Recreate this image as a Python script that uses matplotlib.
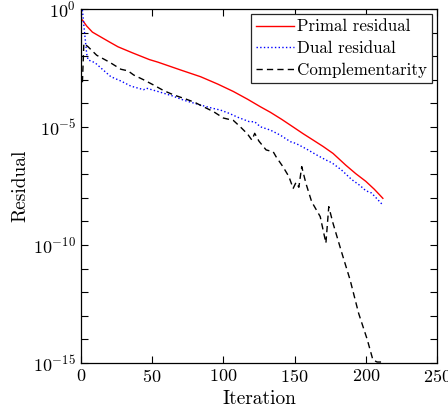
import matplotlib

matplotlib.use("Agg")
import matplotlib.pyplot as plt
import numpy as np
from matplotlib.ticker import LogLocator, NullFormatter

plt.rcParams["font.family"] = "serif"
plt.rcParams["font.serif"] = ["cmr10"]
plt.rcParams["mathtext.fontset"] = "cm"
plt.rcParams["axes.formatter.use_mathtext"] = True

# Primal residual (red, solid)
primal_it = [1, 4, 8, 12, 20, 26, 36, 48, 54, 70, 84, 96, 107, 117, 126, 133,
             141, 149, 156, 163, 170, 177, 186, 193, 200, 206, 212]
primal_res = [3.4e-1, 1.9e-1, 1.05e-1, 7.6e-2, 4.0e-2, 2.5e-2, 1.4e-2, 7.2e-3,
              5.6e-3, 2.6e-3, 1.35e-3, 6.6e-4, 3.2e-4, 1.5e-4, 7.2e-5, 4.2e-5,
              2.1e-5, 1.0e-5, 5.2e-6, 2.8e-6, 1.5e-6, 7.6e-7, 2.4e-7, 1.05e-7,
              5.0e-8, 2.3e-8, 9.5e-9]

# Dual residual (blue, dotted)
dual_it = [1, 2, 4, 5, 7, 10, 15, 21, 28, 35, 44, 46, 54, 64, 72, 84, 92, 98,
           104, 110, 118, 122, 126, 133, 140, 147, 151, 158, 165, 172, 175, 177,
           183, 190, 196, 200, 204, 208, 212]
dual_res = [9.1e-1, 2.0e-1, 1.26e-2, 6.9e-3, 6.3e-3, 5.2e-3, 2.8e-3, 1.35e-3,
            8.9e-4, 5.4e-4, 3.8e-4, 4.4e-4, 3.2e-4, 2.1e-4, 1.38e-4, 8.5e-5,
            6.3e-5, 5.2e-5, 3.8e-5, 2.6e-5, 1.7e-5, 1.66e-5, 1.02e-5, 7.4e-6,
            4.5e-6, 2.4e-6, 2.0e-6, 1.2e-6, 6.8e-7, 4.0e-7, 3.3e-7, 2.8e-7,
            1.5e-7, 6.0e-8, 3.3e-8, 2.0e-8, 1.6e-8, 8.9e-9, 4.9e-9]

# Complementarity (black, dashed)
comp_it = [1, 2, 5, 11, 20, 28, 33, 37, 44, 51, 58, 65, 74, 80, 86, 93, 100,
           107, 112, 117, 120, 122, 125, 130, 135, 137, 142, 146, 149, 151, 153,
           155, 158, 162, 168, 172, 174, 177, 183, 189, 195, 201, 205, 208, 211]
comp_res = [7.9e-4, 3.5e-2, 2.5e-2, 1.1e-2, 5.6e-3, 2.8e-3, 2.4e-3, 1.6e-3,
            1.0e-3, 6.0e-4, 3.5e-4, 2.3e-4, 1.5e-4, 1.1e-4, 7.2e-5, 4.5e-5,
            2.4e-5, 1.9e-5, 1.0e-5, 5.0e-6, 2.8e-6, 5.4e-6, 2.5e-6, 1.07e-6,
            8.9e-7, 5.5e-7, 2.0e-7, 7.9e-8, 2.5e-8, 4.5e-8, 2.8e-8, 2.1e-7,
            4.0e-8, 6.8e-9, 1.6e-9, 1.2e-10, 4.2e-9, 8.3e-10, 5.0e-11, 3.3e-12,
            1.26e-13, 1.0e-14, 1.35e-15, 1.1e-15, 1.1e-15]

fig = plt.figure(figsize=(4.48, 4.15), dpi=100)
ax = fig.add_axes([0.1808, 0.1253, 0.7946, 0.853])

ax.semilogy(primal_it, primal_res, color="red", lw=1.0, label="Primal residual")
ax.semilogy(dual_it, dual_res, color="blue", lw=1.0, ls=":", label="Dual residual")
ax.semilogy(comp_it, comp_res, color="black", lw=1.0, ls=(0, (4.5, 3)),
            label="Complementarity")

ax.set_xlim(0, 250)
ax.set_ylim(1e-15, 1e0)
ax.set_xticks([0, 50, 100, 150, 200, 250])
ax.set_yticks([1e0, 1e-5, 1e-10, 1e-15])
ax.yaxis.set_minor_locator(LogLocator(base=10, subs=[1.0], numticks=30))
ax.yaxis.set_minor_formatter(NullFormatter())
ax.tick_params(which="both", direction="in", top=True, right=True, labelsize=13)
ax.tick_params(which="both", length=5, width=0.8)
for s in ax.spines.values():
    s.set_linewidth(0.9)

ax.set_xlabel("Iteration", fontsize=14, labelpad=4)
ax.set_ylabel("Residual", fontsize=14, labelpad=3)

leg = ax.legend(loc="upper right", fontsize=12.2, frameon=True, fancybox=False,
                edgecolor="0.15", framealpha=1, borderaxespad=0.3,
                handlelength=2.2, handletextpad=0.2, labelspacing=0.38,
                borderpad=0.3)
leg.get_frame().set_linewidth(0.9)

fig.savefig("out.png", dpi=100)
